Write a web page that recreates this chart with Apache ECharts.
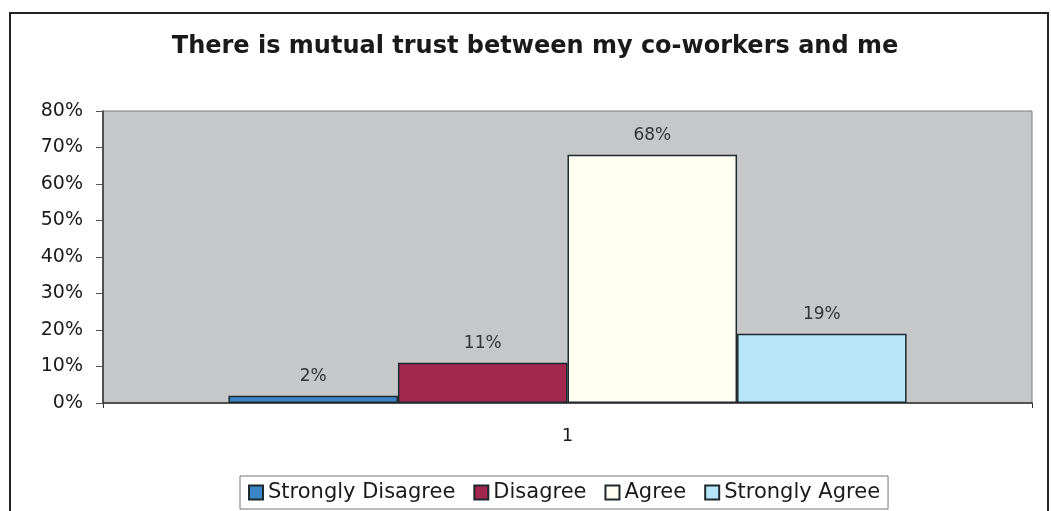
<!DOCTYPE html>
<html>
<head>
<meta charset="utf-8">
<script src="https://cdn.jsdelivr.net/npm/echarts@6/dist/echarts.min.js"></script>
<style>
    html, body { margin: 0; padding: 0; background: #fff; }
    #wrap { position: relative; width: 1051px; height: 511px; overflow: hidden; }
    #frame { position: absolute; left: 9px; top: 12px; width: 1036px; height: 520px; border: 2px solid #222; }
    #chart { position: absolute; left: 0; top: 0; width: 1051px; height: 511px; }
</style>
</head>
<body>
<div id="wrap">
    <div id="frame"></div>
    <div id="chart"></div>
</div>
<script>
// 数据
var CATEGORIES = ['1'];
var SERIES_NAMES = ['Strongly Disagree', 'Disagree', 'Agree', 'Strongly Agree'];
var SERIES_VALUES = [[2], [11], [68], [19]];
var BAR_COLORS = ['#3c86c8', '#a3264f', '#fffff2', '#b6e6f7'];
var Y_MIN = 0, Y_MAX = 80, Y_STEP = 10;

var myChart = echarts.init(document.getElementById('chart'));
var FONT = 'DejaVu Sans';

var series = SERIES_NAMES.map(function (name, i) {
    return {
        name: name,
        type: 'bar',
        data: SERIES_VALUES[i],
        barGap: '0%',
        barCategoryGap: '27%',
        itemStyle: {
            color: BAR_COLORS[i],
            borderColor: '#1e2a2e',
            borderWidth: 1.5
        },
        label: {
            show: true,
            position: 'top',
            distance: 11,
            formatter: '{c}%',
            color: '#333',
            fontFamily: FONT,
            fontSize: 17
        }
    };
});

var option = {
    backgroundColor: 'transparent',
    animation: false,
    title: {
        text: 'There is mutual trust between my co-workers and me',
        left: 530,
        textAlign: 'center',
        top: 30,
        textStyle: {
            color: '#1a1a1a',
            fontFamily: FONT,
            fontWeight: 'bold',
            fontSize: 24
        }
    },
    legend: {
        data: SERIES_NAMES,
        left: 240,
        top: 476,
        icon: 'rect',
        itemWidth: 14,
        itemHeight: 14,
        itemGap: 18,
        padding: [6, 8],
        borderColor: '#777',
        borderWidth: 1,
        textStyle: {
            color: '#1a1a1a',
            fontFamily: FONT,
            fontSize: 21
        }
    },
    grid: {
        left: 103,
        right: 19,
        top: 111,
        bottom: 108,
        show: true,
        backgroundColor: '#c5c7c9',
        borderColor: '#7a7a7a',
        borderWidth: 1
    },
    xAxis: {
        type: 'category',
        data: CATEGORIES,
        axisLine: { lineStyle: { color: '#333', width: 1.5 } },
        axisTick: { show: true, length: 5, lineStyle: { color: '#333' } },
        axisLabel: {
            margin: 24,
            color: '#1a1a1a',
            fontFamily: FONT,
            fontSize: 18
        }
    },
    yAxis: {
        type: 'value',
        min: Y_MIN,
        max: Y_MAX,
        interval: Y_STEP,
        axisLine: { show: true, lineStyle: { color: '#333', width: 1.5 } },
        axisTick: { show: true, length: 7, lineStyle: { color: '#555' } },
        splitLine: { show: false },
        axisLabel: {
            formatter: '{value}%',
            margin: 20,
            color: '#1a1a1a',
            fontFamily: FONT,
            fontSize: 19
        }
    },
    series: series
};
myChart.setOption(option);
</script>
</body>
</html>
